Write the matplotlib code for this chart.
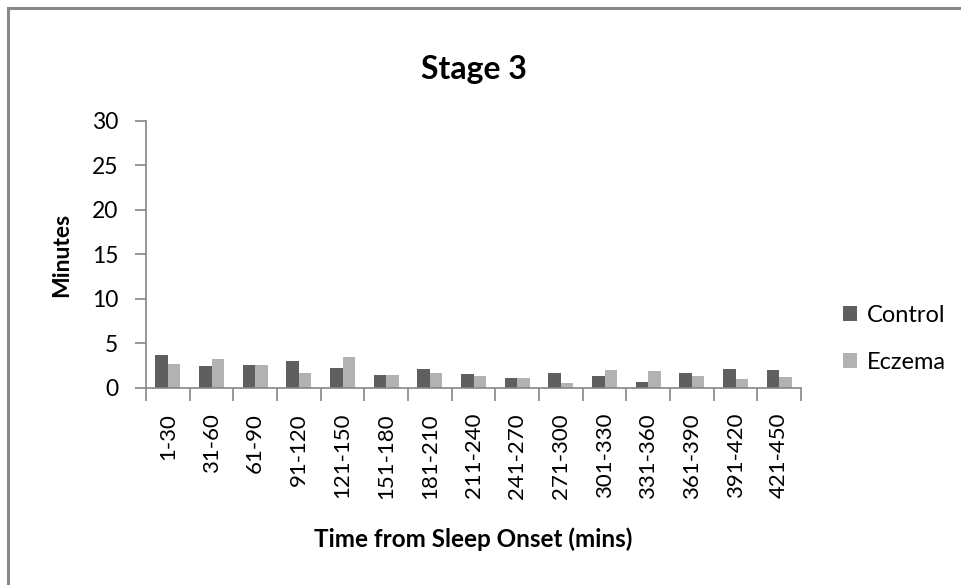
import numpy as np
import matplotlib.pyplot as plt
from matplotlib.patches import Rectangle

plt.rcParams['font.family'] = ['Lato', 'DejaVu Sans']

# Minutes of stage 3 sleep per 30-minute block after sleep onset
periods = ['1-30', '31-60', '61-90', '91-120', '121-150', '151-180', '181-210',
           '211-240', '241-270', '271-300', '301-330', '331-360', '361-390',
           '391-420', '421-450']
control = [3.75, 2.47, 2.63, 3.03, 2.29, 1.46, 2.18, 1.62, 1.12, 1.73, 1.31,
           0.72, 1.73, 2.18, 2.02]
eczema = [2.74, 3.30, 2.63, 1.73, 3.48, 1.46, 1.73, 1.31, 1.12, 0.60, 2.02,
          1.87, 1.31, 1.01, 1.20]

axis_grey = '#868686'

fig = plt.figure(figsize=(9.62, 5.85), dpi=100)
ax = fig.add_axes([0.1518, 0.3368, 0.6809, 0.4564])

x = np.arange(len(periods))
w = 0.285
ax.bar(x - w / 2, control, w, color='#5f5f5f', label='Control')
ax.bar(x + w / 2, eczema, w, color='#b2b2b2', label='Eczema')

ax.set_xlim(-0.5, len(periods) - 0.5)
ax.set_ylim(0, 30)
ax.set_yticks(range(0, 31, 5))
ax.set_xticks(x)
ax.set_xticklabels(periods, rotation=90, fontsize=16)
ax.set_xticks(np.arange(-0.5, len(periods)), minor=True)
ax.tick_params(axis='x', which='major', length=0, pad=18)
ax.tick_params(axis='x', which='minor', length=9, width=1.2, color=axis_grey)
ax.tick_params(axis='y', length=8, width=1.2, color=axis_grey, labelsize=16.5, pad=12)

for side in ('top', 'right'):
    ax.spines[side].set_visible(False)
for side in ('left', 'bottom'):
    ax.spines[side].set_color(axis_grey)
    ax.spines[side].set_linewidth(1.2)

ax.set_title('Stage 3', fontsize=23, fontweight='bold', pad=30)
ax.set_ylabel('Minutes', fontsize=16.5, fontweight='bold', labelpad=14)
ax.set_xlabel('Time from Sleep Onset (mins)', fontsize=17.5, fontweight='bold', labelpad=21)

fig.legend(loc='center left', bbox_to_anchor=(0.864, 0.42), frameon=False,
           fontsize=17, handlelength=0.6, handleheight=0.6, handletextpad=0.4,
           labelspacing=1.1, borderpad=0)

# chart frame
fig.patches.append(Rectangle((8 / 962, -0.1), 1.2, 1.1 - 8 / 585,
                             transform=fig.transFigure, fill=False,
                             edgecolor='#888888', linewidth=2.2))

fig.savefig('out.png', dpi=100)
